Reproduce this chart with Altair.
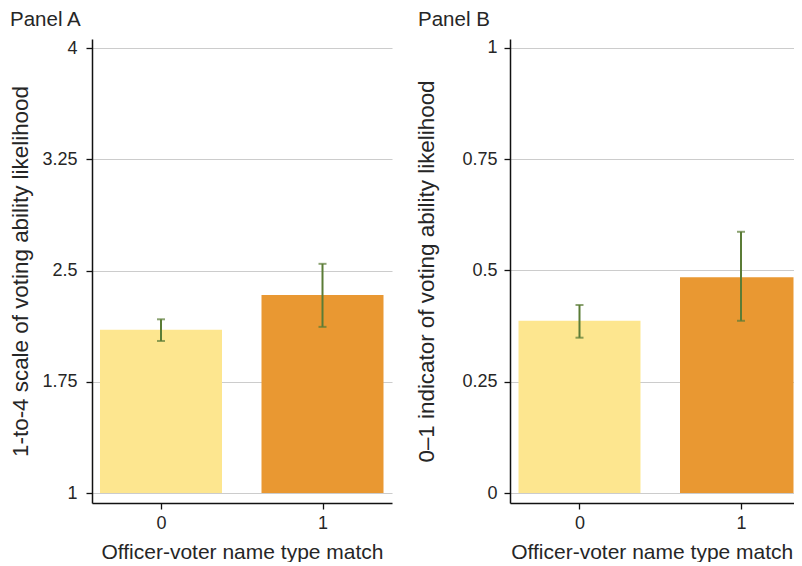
import altair as alt
import pandas as pd

# ---- data ----
groups = [0, 1]
bar_colors = ["#FDE68F", "#E99832"]

a_mean = [2.10, 2.335]
a_lo = [2.025, 2.12]
a_hi = [2.171, 2.545]

b_mean = [0.387, 0.485]
b_lo = [0.349, 0.387]
b_hi = [0.4225, 0.587]

a_ticks = [1, 1.75, 2.5, 3.25, 4]
b_ticks = [0, 0.25, 0.5, 0.75, 1]
x_ticks = [0, 1]

FONT = "Liberation Sans"
TXT = "#262626"
ERR = "#5B7C36"


def panel(mean, lo, hi, base, ydomain, yticks, ytitle, xdomain, width,
          ptitle, ext, tpad, lpad, pdx):
    df = pd.DataFrame({"g": groups, "m": mean, "lo": lo, "hi": hi,
                       "c": bar_colors, "base": [base] * len(groups)})
    xs = alt.Scale(domain=xdomain, nice=False, zero=False, padding=0)
    ys = alt.Scale(domain=ydomain, nice=False, zero=False, padding=0)
    xax = alt.Axis(values=x_ticks, format="d", grid=False,
                   title="Officer-voter name type match",
                   tickSize=6, labelPadding=5, titlePadding=9,
                   labelFontSize=18, titleFontSize=21)
    yax = alt.Axis(values=yticks, grid=True, title=ytitle,
                   labelExpr="format(datum.value, '~g')",
                   tickSize=6, labelPadding=lpad, titlePadding=tpad,
                   minExtent=ext, maxExtent=ext,
                   labelFontSize=18, titleFontSize=22.4)
    X = alt.X("g:Q", scale=xs, axis=xax)
    base_ch = alt.Chart(df)
    bars = base_ch.mark_bar(size=122, clip=True).encode(
        x=X,
        y=alt.Y("m:Q", scale=ys, axis=yax, title=ytitle),
        y2="base:Q",
        color=alt.Color("c:N", scale=None),
    )
    rule = base_ch.mark_rule(color=ERR, strokeWidth=2).encode(
        x=X,
        y=alt.Y("lo:Q", scale=ys, axis=yax, title=ytitle),
        y2="hi:Q",
    )
    cap_lo = base_ch.mark_tick(color=ERR, orient="horizontal", size=8,
                               thickness=2).encode(
        x=X,
        y=alt.Y("lo:Q", scale=ys, axis=yax, title=ytitle),
    )
    cap_hi = base_ch.mark_tick(color=ERR, orient="horizontal", size=8,
                               thickness=2).encode(
        x=X,
        y=alt.Y("hi:Q", scale=ys, axis=yax, title=ytitle),
    )
    return alt.layer(bars, rule, cap_lo, cap_hi).properties(
        width=width, height=464,
        title=alt.TitleParams(ptitle, anchor="start", fontSize=20.5,
                              font=FONT, fontWeight="normal", color=TXT,
                              offset=8.5, dx=pdx),
    )


pa = panel(a_mean, a_lo, a_hi, 1, [0.9326, 4.0607], a_ticks,
           "1-to-4 scale of voting ability likelihood",
           [-0.4272, 1.4303], 300, "Panel A", 50, 10, 9, 1)
pb = panel(b_mean, b_lo, b_hi, 0, [-0.02247, 1.0202], b_ticks,
           "0\u20131 indicator of voting ability likelihood",
           [-0.4303, 1.325], 283.5, "Panel B", 48, 24, 7, 3)

chart = alt.hconcat(pa, pb, spacing=23).properties(
    padding={"left": 1, "top": 1, "right": 0, "bottom": 0}
).configure_view(stroke=None).configure_axis(
    labelFont=FONT, titleFont=FONT, labelColor=TXT, titleColor=TXT,
    titleFontWeight="normal", domainColor="#111111", domainWidth=1.5,
    tickColor="#111111", tickWidth=1.3, gridColor="#CCCCCC", gridWidth=1.2,
)

chart.save("out.html", embed_options={"renderer": "svg", "actions": False})
